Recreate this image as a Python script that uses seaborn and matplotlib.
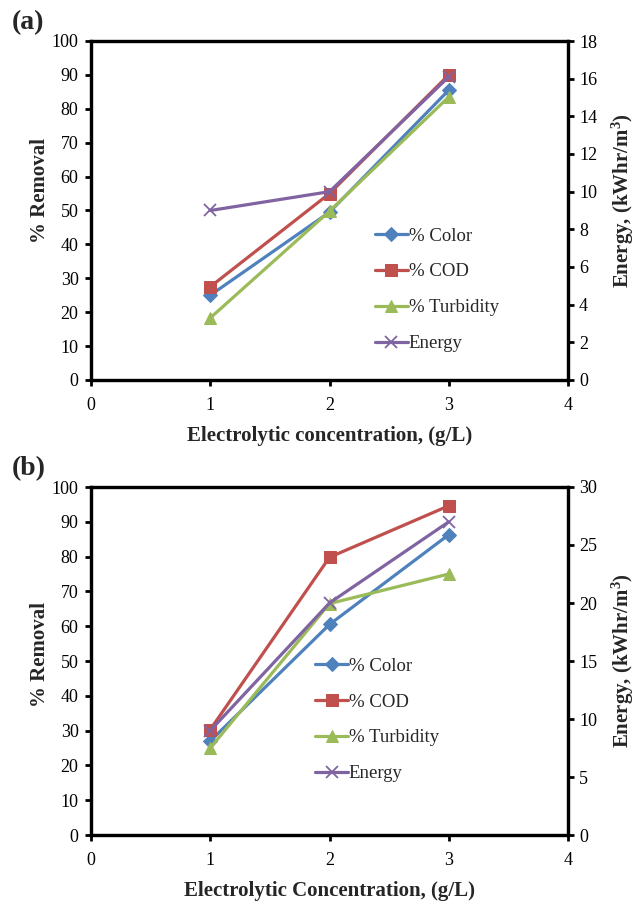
import matplotlib
matplotlib.use("Agg")
import matplotlib.pyplot as plt
import seaborn as sns
import pandas as pd

sns.set_style("ticks")
plt.rcParams['font.family'] = ['Liberation Serif', 'DejaVu Serif']
plt.rcParams['mathtext.fontset'] = 'custom'
plt.rcParams['mathtext.rm'] = 'Liberation Serif'
plt.rcParams['mathtext.bf'] = 'Liberation Serif:bold'

conc = [1, 2, 3]
# panel (a)
a_color = [25.0, 49.5, 85.5]
a_cod = [27.5, 55.0, 90.0]
a_turb = [18.3, 49.8, 83.5]
a_energy = [9.0, 10.0, 16.1]
# panel (b)
b_color = [27.0, 60.5, 86.3]
b_cod = [30.3, 79.8, 94.6]
b_turb = [25.0, 66.5, 75.0]
b_energy = [9.0, 20.0, 27.0]

C_BLUE = '#4F81BD'
C_RED = '#C0504D'
C_GREEN = '#9BBB59'
C_PURPLE = '#8064A2'

fig = plt.figure(figsize=(6.38, 9.08), dpi=100)
W, H = 638, 908


def panel(top, bottom, color, cod, turb, energy, emax, estep, xlabel, tag, leg_xy,
          ylab_y, elab_y):
    ax = fig.add_axes([91 / W, 1 - bottom / H, (568 - 91) / W, (bottom - top) / H])
    ax2 = ax.twinx()
    series = [("% Color", color, C_BLUE, 'D', 7),
              ("% COD", cod, C_RED, 's', 8),
              ("% Turbidity", turb, C_GREEN, '^', 9)]
    for name, vals, c, m, ms in series:
        df = pd.DataFrame({"x": conc, "y": vals})
        sns.lineplot(data=df, x="x", y="y", ax=ax, color=c, marker=m, markersize=ms,
                     markeredgecolor=c, linewidth=2.3, label=name, legend=False)
    dfe = pd.DataFrame({"x": conc, "y": energy})
    sns.lineplot(data=dfe, x="x", y="y", ax=ax2, color=C_PURPLE, marker='x', markersize=9,
                 markeredgewidth=1.3, markeredgecolor=C_PURPLE, linewidth=2.3,
                 label="Energy", legend=False)
    ax.set_xlim(0, 4)
    ax.set_ylim(0, 100)
    ax.set_xticks([0, 1, 2, 3, 4])
    ax.set_yticks(range(0, 101, 10))
    ax2.set_ylim(0, emax)
    ax2.set_yticks(range(0, emax + 1, estep))
    for a in (ax, ax2):
        for s in a.spines.values():
            s.set_linewidth(2.3)
            s.set_color('black')
        a.tick_params(direction='out', length=4, width=2, labelsize=13, colors='black')
    ax.tick_params(axis='x', pad=8)
    ax.tick_params(axis='y', pad=5)
    ax2.tick_params(axis='y', pad=4)
    ax.set_xlabel(xlabel, fontsize=15, fontweight='bold', labelpad=9)
    ax.set_ylabel("% Removal", fontsize=15, fontweight='bold')
    ax.yaxis.set_label_coords(-0.085, ylab_y)
    ax2.set_ylabel(r"Energy, (kWhr/m$\mathbf{^3}$)", fontsize=15, fontweight='bold')
    ax2.yaxis.set_label_coords(1.088, elab_y)
    h1, l1 = ax.get_legend_handles_labels()
    h2, l2 = ax2.get_legend_handles_labels()
    ax.legend(h1 + h2, l1 + l2, loc='upper left', bbox_to_anchor=leg_xy, frameon=False,
              fontsize=13.5, labelspacing=1.0, handlelength=1.75, handletextpad=0.05,
              borderaxespad=0, borderpad=0)
    fig.text(12 / W, 1 - (top - 18) / H, tag, fontsize=20, fontweight='bold', va='center')
    return ax


panel(41, 380, a_color, a_cod, a_turb, a_energy, 18, 2,
      "Electrolytic concentration, (g/L)", "(a)", (0.595, 0.45), 0.56, 0.53)
panel(487, 835, b_color, b_cod, b_turb, b_energy, 30, 5,
      "Electrolytic Concentration, (g/L)", "(b)", (0.47, 0.51), 0.52, 0.5)

fig.savefig("out.png", dpi=100)
